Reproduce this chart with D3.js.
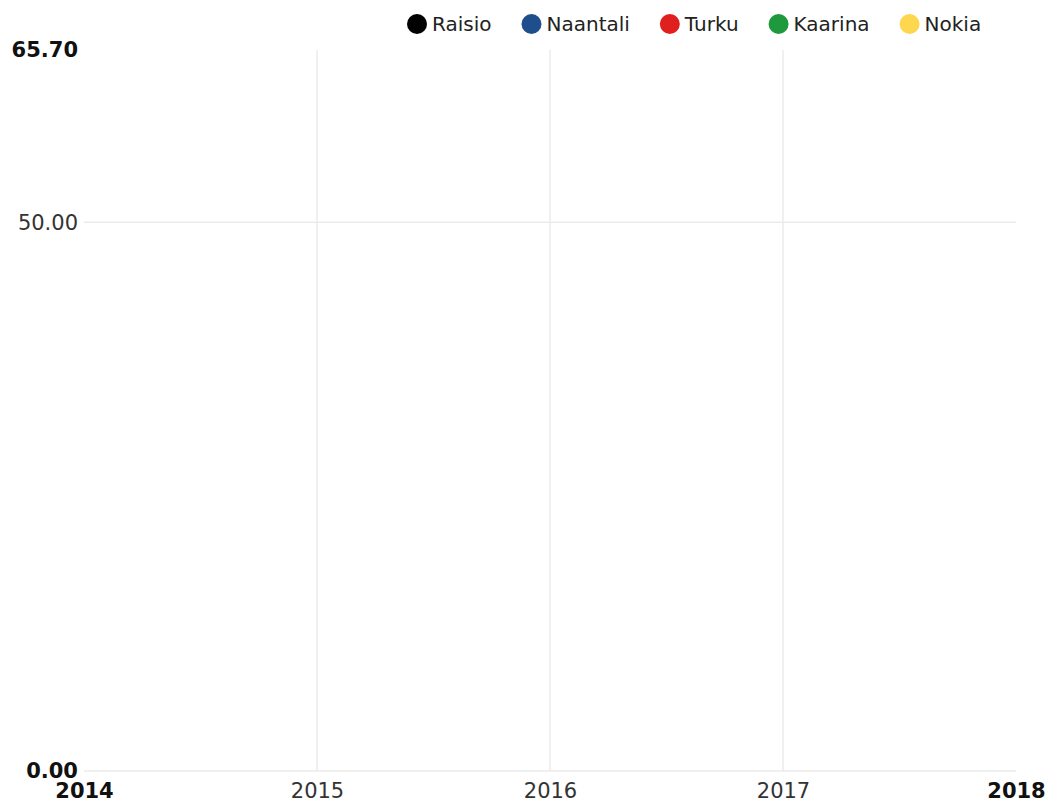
<!DOCTYPE html>
<html>
<head>
<meta charset="utf-8">
<script src="https://cdn.jsdelivr.net/npm/d3@7"></script>
<style>
  html, body { margin: 0; padding: 0; background: #fff; }
  svg { display: block; font-family: "DejaVu Sans", sans-serif; }
</style>
</head>
<body>
<svg id="chart" width="1050" height="803"></svg>
<script>
// Municipalities shown in the legend and their colours
const municipalities = ["Raisio", "Naantali", "Turku", "Kaarina", "Nokia"];
const colors = ["#000000", "#1f4e8c", "#e0201f", "#1e9a3c", "#fdd84e"];

// Year axis and value axis ticks
const years = [2014, 2015, 2016, 2017, 2018];
const yTicks = [0, 50, 65.7];
const yMin = 0;
const yMax = 65.7;

// Series values per municipality (no observations available)
const raisio = [];
const naantali = [];
const turku = [];
const kaarina = [];
const nokia = [];
const seriesValues = [raisio, naantali, turku, kaarina, nokia];

const svg = d3.select("#chart");
const margin = { left: 84, right: 34, top: 50, bottom: 32 };
const W = 1050, H = 803;

const x = d3.scaleLinear()
  .domain([d3.min(years), d3.max(years)])
  .range([margin.left, W - margin.right]);
const y = d3.scaleLinear()
  .domain([yMin, yMax])
  .range([H - margin.bottom, margin.top]);

const grid = svg.append("g");

// Vertical gridlines at the inner years
grid.selectAll("line.v")
  .data(years.slice(1, -1))
  .join("line")
  .attr("x1", d => x(d)).attr("x2", d => x(d))
  .attr("y1", y(yMax)).attr("y2", y(yMin))
  .attr("stroke", "#ebebeb").attr("stroke-width", 1.5);

// Horizontal gridlines at the value ticks below the maximum
grid.selectAll("line.h")
  .data(yTicks.filter(d => d < yMax))
  .join("line")
  .attr("x1", x.range()[0]).attr("x2", x.range()[1])
  .attr("y1", d => y(d)).attr("y2", d => y(d))
  .attr("stroke", "#ebebeb").attr("stroke-width", 1.5);

// Value axis labels: extremes in bold
const yAxis = d3.axisLeft(y).tickValues(yTicks).tickSize(0).tickPadding(6)
  .tickFormat(d3.format(".2f"));
const yg = svg.append("g").attr("transform", `translate(${margin.left},0)`).call(yAxis);
yg.select(".domain").remove();
yg.selectAll("text")
  .attr("font-size", 21)
  .attr("fill", d => (d === yMin || d === yMax) ? "#111" : "#333")
  .attr("font-weight", d => (d === yMin || d === yMax) ? "bold" : "normal")
  .attr("font-family", "DejaVu Sans, sans-serif");

// Year axis labels: first and last in bold
const xAxis = d3.axisBottom(x).tickValues(years).tickSize(0).tickPadding(12)
  .tickFormat(d3.format("d"));
const xg = svg.append("g").attr("transform", `translate(0,${H - margin.bottom})`).call(xAxis);
xg.select(".domain").remove();
xg.selectAll("text")
  .attr("font-size", 21)
  .attr("fill", (d, i) => (i === 0 || i === years.length - 1) ? "#111" : "#333")
  .attr("font-weight", (d, i) => (i === 0 || i === years.length - 1) ? "bold" : "normal")
  .attr("font-family", "DejaVu Sans, sans-serif");

// Lines for each municipality
const line = d3.line().x((d, i) => x(years[i])).y(d => y(d)).defined(d => d != null);
svg.append("g").selectAll("path")
  .data(seriesValues)
  .join("path")
  .attr("d", d => d.length ? line(d) : null)
  .attr("fill", "none")
  .attr("stroke", (d, i) => colors[i])
  .attr("stroke-width", 3);

// Legend across the top right
const legend = svg.append("g").attr("transform", "translate(0,24)");
let cursor = 407;
municipalities.forEach((name, i) => {
  const item = legend.append("g").attr("transform", `translate(${cursor},0)`);
  item.append("circle").attr("cx", 10).attr("cy", 0).attr("r", 10).attr("fill", colors[i]);
  const t = item.append("text")
    .attr("x", 25).attr("y", 0).attr("dy", "0.35em")
    .attr("font-size", 20).attr("fill", "#222")
    .text(name);
  cursor += 25 + t.node().getComputedTextLength() + 30;
});
</script>
</body>
</html>
